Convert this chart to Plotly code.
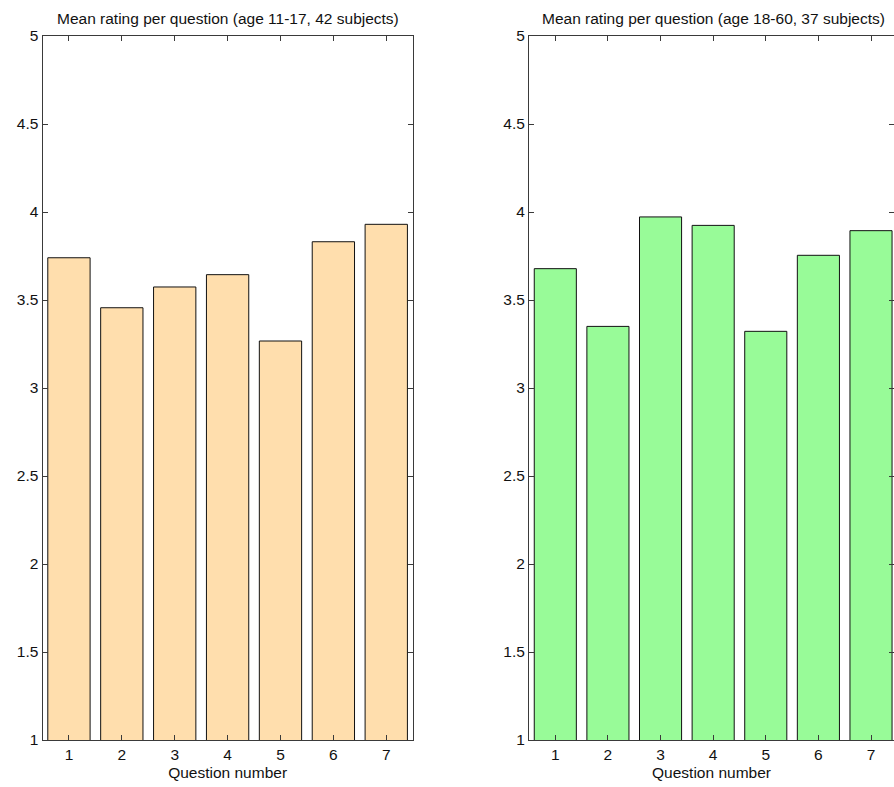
import plotly.graph_objects as go

questions = [1, 2, 3, 4, 5, 6, 7]
young_means = [3.740, 3.456, 3.574, 3.644, 3.267, 3.831, 3.930]
adult_means = [3.678, 3.350, 3.972, 3.924, 3.322, 3.754, 3.894]
y_ticks = [1, 1.5, 2, 2.5, 3, 3.5, 4, 4.5, 5]
y_tick_labels = ["1", "1.5", "2", "2.5", "3", "3.5", "4", "4.5", "5"]
titles = ["Mean rating per question (age 11-17, 42 subjects)",
          "Mean rating per question (age 18-60, 37 subjects)"]
x_title = "Question number"

W, H = 894, 787
top_px, bot_px = 36, 740
left_dom = [42.5 / W, 412.7 / W]
right_dom = [529 / W, 1.0]
ydom = [(H - bot_px) / H, (H - top_px) / H]

font = dict(family="Liberation Sans, Arial, sans-serif", size=15.5, color="#111111")
axcol = "#3a3a3a"

fig = go.Figure()
fig.add_trace(go.Bar(x=questions, y=young_means, marker=dict(color="#FFDEAD", line=dict(color="#111111", width=1)),
                     xaxis="x", yaxis="y", showlegend=False, hoverinfo="skip"))
fig.add_trace(go.Bar(x=questions, y=adult_means, marker=dict(color="#98FB98", line=dict(color="#111111", width=1)),
                     xaxis="x2", yaxis="y2", showlegend=False, hoverinfo="skip"))

common_x = dict(tickmode="array", tickvals=questions, ticktext=[str(q) for q in questions],
                ticks="inside", ticklen=5, tickcolor=axcol, showline=True, linecolor=axcol, linewidth=1,
                mirror="allticks", showgrid=False, zeroline=False, tickfont=font, automargin=False,
                title=dict(text=x_title, font=font, standoff=5))
common_y = dict(tickmode="array", tickvals=y_ticks, ticktext=y_tick_labels, range=[1, 5],
                ticks="inside", ticklen=5, tickcolor=axcol, showline=True, linecolor=axcol, linewidth=1,
                mirror="allticks", showgrid=False, zeroline=False, tickfont=font, automargin=False)

px_per_unit_r = (870.7 - 555) / 6
fig.update_layout(
    width=W, height=H, margin=dict(l=0, r=0, t=0, b=0, pad=0), autosize=False,
    paper_bgcolor="white", plot_bgcolor="white", bargap=0.2, font=font,
    xaxis=dict(domain=left_dom, range=[0.5, 7.5], anchor="y", **common_x),
    yaxis=dict(domain=ydom, anchor="x", **common_y),
    xaxis2=dict(domain=right_dom, range=[0.5, 0.5 + (W - 529) / px_per_unit_r], anchor="y2", **common_x),
    yaxis2=dict(domain=ydom, anchor="x2", **common_y),
    annotations=[
        dict(text=titles[0], x=(42.5 + 412.7) / 2 / W, y=1 - 18 / H, xref="paper", yref="paper",
             showarrow=False, font=font, xanchor="center", yanchor="middle"),
        dict(text=titles[1], x=713 / W, y=1 - 18 / H, xref="paper", yref="paper",
             showarrow=False, font=font, xanchor="center", yanchor="middle"),
    ],
)
fig.write_html("out.html", config={"displayModeBar": False},
               post_script="document.body.style.margin='0px';document.body.style.overflow='hidden';")
